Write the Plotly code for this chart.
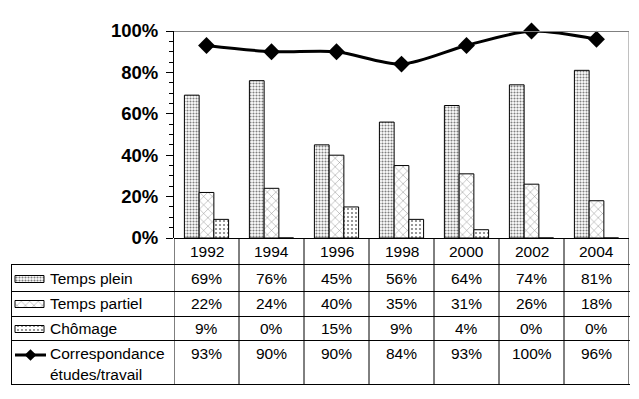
import plotly.graph_objects as go

# ---------------- data ----------------
years = ["1992", "1994", "1996", "1998", "2000", "2002", "2004"]
temps_plein = [69, 76, 45, 56, 64, 74, 81]
temps_partiel = [22, 24, 40, 35, 31, 26, 18]
chomage = [9, 0, 15, 9, 4, 0, 0]
correspondance = [93, 90, 90, 84, 93, 100, 96]
series_labels = ["Temps plein", "Temps partiel", "Chômage", "Correspondance", "études/travail"]
y_ticks = [0, 20, 40, 60, 80, 100]
y_tick_text = ["0%", "20%", "40%", "60%", "80%", "100%"]

# ---------------- layout constants (pixels) ----------------
W, H = 639, 399
PL, PR, PT, PB = 174, 629, 31, 238          # plot area
TL = 11                                      # table left edge
ROW_LINES = [264, 291, 316, 340, 384]        # horizontal table lines
ROW_TEXT = [278.5, 303.5, 328.5, 353.5]      # text centres of the rows
HEADER_Y = 251.5
LINE2_Y = 374
KEY_X0, KEY_X1 = 15, 44
KEY_H = 7
FONT = "Liberation Sans, Arial, sans-serif"

pat_plein = dict(shape=".", size=3, solidity=0.4, fgcolor="black", bgcolor="white")
pat_partiel = dict(shape="x", size=6, solidity=0.14, fgcolor="black", bgcolor="white")
pat_chomage = dict(shape=".", size=4, solidity=0.22, fgcolor="black", bgcolor="white")

fig = go.Figure()

bar_line = dict(color="black", width=1)
for name, vals, pat in [("Temps plein", temps_plein, pat_plein),
                        ("Temps partiel", temps_partiel, pat_partiel),
                        ("Chômage", chomage, pat_chomage)]:
    fig.add_trace(go.Bar(x=years, y=vals, name=name,
                         marker=dict(color="white", line=bar_line, pattern=pat),
                         showlegend=False, hoverinfo="skip"))

fig.add_trace(go.Scatter(x=years, y=correspondance, mode="lines+markers",
                         line=dict(color="black", width=3, shape="spline", smoothing=0.8),
                         marker=dict(symbol="diamond", size=13, color="black"),
                         cliponaxis=False, showlegend=False, hoverinfo="skip"))

# ---------------- legend keys inside the table (pixel overlay axes) ----------------
for pat, yc in [(pat_plein, ROW_TEXT[0]), (pat_partiel, ROW_TEXT[1]), (pat_chomage, ROW_TEXT[2])]:
    y0, y1 = yc - KEY_H / 2 + 0.5, yc + KEY_H / 2 + 0.5
    fig.add_trace(go.Scatter(x=[KEY_X0, KEY_X1, KEY_X1, KEY_X0, KEY_X0],
                             y=[y0, y0, y1, y1, y0], mode="lines", fill="toself",
                             fillcolor="white", fillpattern=pat,
                             line=dict(color="black", width=1),
                             xaxis="x2", yaxis="y2", showlegend=False, hoverinfo="skip"))
fig.add_trace(go.Scatter(x=[KEY_X0, KEY_X1 + 2], y=[ROW_TEXT[3] + 1.5] * 2, mode="lines",
                         line=dict(color="black", width=3),
                         xaxis="x2", yaxis="y2", showlegend=False, hoverinfo="skip"))
fig.add_trace(go.Scatter(x=[(KEY_X0 + KEY_X1 + 2) / 2], y=[ROW_TEXT[3] + 1.5], mode="markers",
                         marker=dict(symbol="diamond", size=9, color="black"),
                         xaxis="x2", yaxis="y2", showlegend=False, hoverinfo="skip"))

# ---------------- shapes: borders and table grid ----------------
n = len(years)
shapes = []
gray = "#808080"
shapes.append(dict(type="line", xref="x", yref="y2", x0=-0.5, x1=n - 0.5,
                   y0=PT + 0.5, y1=PT + 0.5, line=dict(color=gray, width=1)))
shapes.append(dict(type="line", xref="x", yref="y2", x0=n - 0.5, x1=n - 0.5,
                   y0=PT, y1=PB, line=dict(color=gray, width=1)))
shapes.append(dict(type="line", xref="x", yref="y2", x0=-0.5, x1=n - 0.5,
                   y0=PB + 0.5, y1=PB + 0.5, line=dict(color="black", width=1)))
for yl in ROW_LINES:
    shapes.append(dict(type="line", xref="x2", yref="y2", x0=TL, x1=PR + 1,
                       y0=yl + 0.5, y1=yl + 0.5, line=dict(color="black", width=1)))
for i in range(n + 1):
    shapes.append(dict(type="line", xref="x", yref="y2", x0=i - 0.5, x1=i - 0.5,
                       y0=PB, y1=ROW_LINES[-1] + 1, line=dict(color="black", width=1)))
shapes.append(dict(type="line", xref="x2", yref="y2", x0=TL + 0.5, x1=TL + 0.5,
                   y0=ROW_LINES[0], y1=ROW_LINES[-1] + 1, line=dict(color="black", width=1)))

# ---------------- annotations: table text ----------------
tfont = dict(family=FONT, size=15.5, color="black")
ann = []
for j, yr in enumerate(years):
    ann.append(dict(x=j, y=HEADER_Y, xref="x", yref="y2", text=yr, showarrow=False,
                    font=tfont, xanchor="center", yanchor="middle"))
    for r, vals in enumerate([temps_plein, temps_partiel, chomage, correspondance]):
        ann.append(dict(x=j, y=ROW_TEXT[r], xref="x", yref="y2", text=f"{vals[j]}%",
                        showarrow=False, font=tfont, xanchor="center", yanchor="middle"))
for r in range(4):
    ann.append(dict(x=48, y=ROW_TEXT[r], xref="x2", yref="y2", text=series_labels[r],
                    showarrow=False, font=tfont, xanchor="left", yanchor="middle"))
ann.append(dict(x=48, y=LINE2_Y, xref="x2", yref="y2", text=series_labels[4],
                showarrow=False, font=tfont, xanchor="left", yanchor="middle"))

fig.update_layout(
    width=W, height=H, margin=dict(l=0, r=0, t=0, b=0, pad=0),
    paper_bgcolor="white", plot_bgcolor="rgba(0,0,0,0)",
    barmode="group", bargap=0.32, bargroupgap=0,
    shapes=shapes, annotations=ann,
    xaxis=dict(domain=[PL / W, PR / W], type="category", range=[-0.5, n - 0.5],
               showticklabels=False, ticks="", showgrid=False, zeroline=False, showline=False,
               fixedrange=True),
    yaxis=dict(domain=[1 - PB / H, 1 - PT / H], range=[0, 100], tickvals=y_ticks,
               ticktext=y_tick_text, ticks="outside", ticklen=7, tickcolor="black", tickwidth=1,
               minor=dict(dtick=5, ticks="outside", ticklen=4, tickcolor="black", tickwidth=1,
                          showgrid=False),
               showline=True, linecolor="black", linewidth=1, showgrid=False, zeroline=False,
               tickfont=dict(family=FONT, size=18.5, color="black", weight="bold"),
               ticklabelstandoff=4, automargin=False, fixedrange=True),
    yaxis3=dict(overlaying="y", anchor="x", side="left", range=[0, 100], tickvals=y_ticks,
                showticklabels=False, ticks="inside", ticklen=5, tickcolor="black",
                minor=dict(dtick=5, ticks="inside", ticklen=4, tickcolor="black"),
                showline=False, showgrid=False, zeroline=False, fixedrange=True),
    xaxis2=dict(domain=[0, 1], range=[0, W], visible=False, anchor="y2", fixedrange=True),
    yaxis2=dict(domain=[0, 1], range=[H, 0], visible=False, anchor="x2", fixedrange=True),
)

fig.write_html("out.html", config=dict(displayModeBar=False),
               post_script="document.body.style.margin='0';document.body.style.overflow='hidden';")
